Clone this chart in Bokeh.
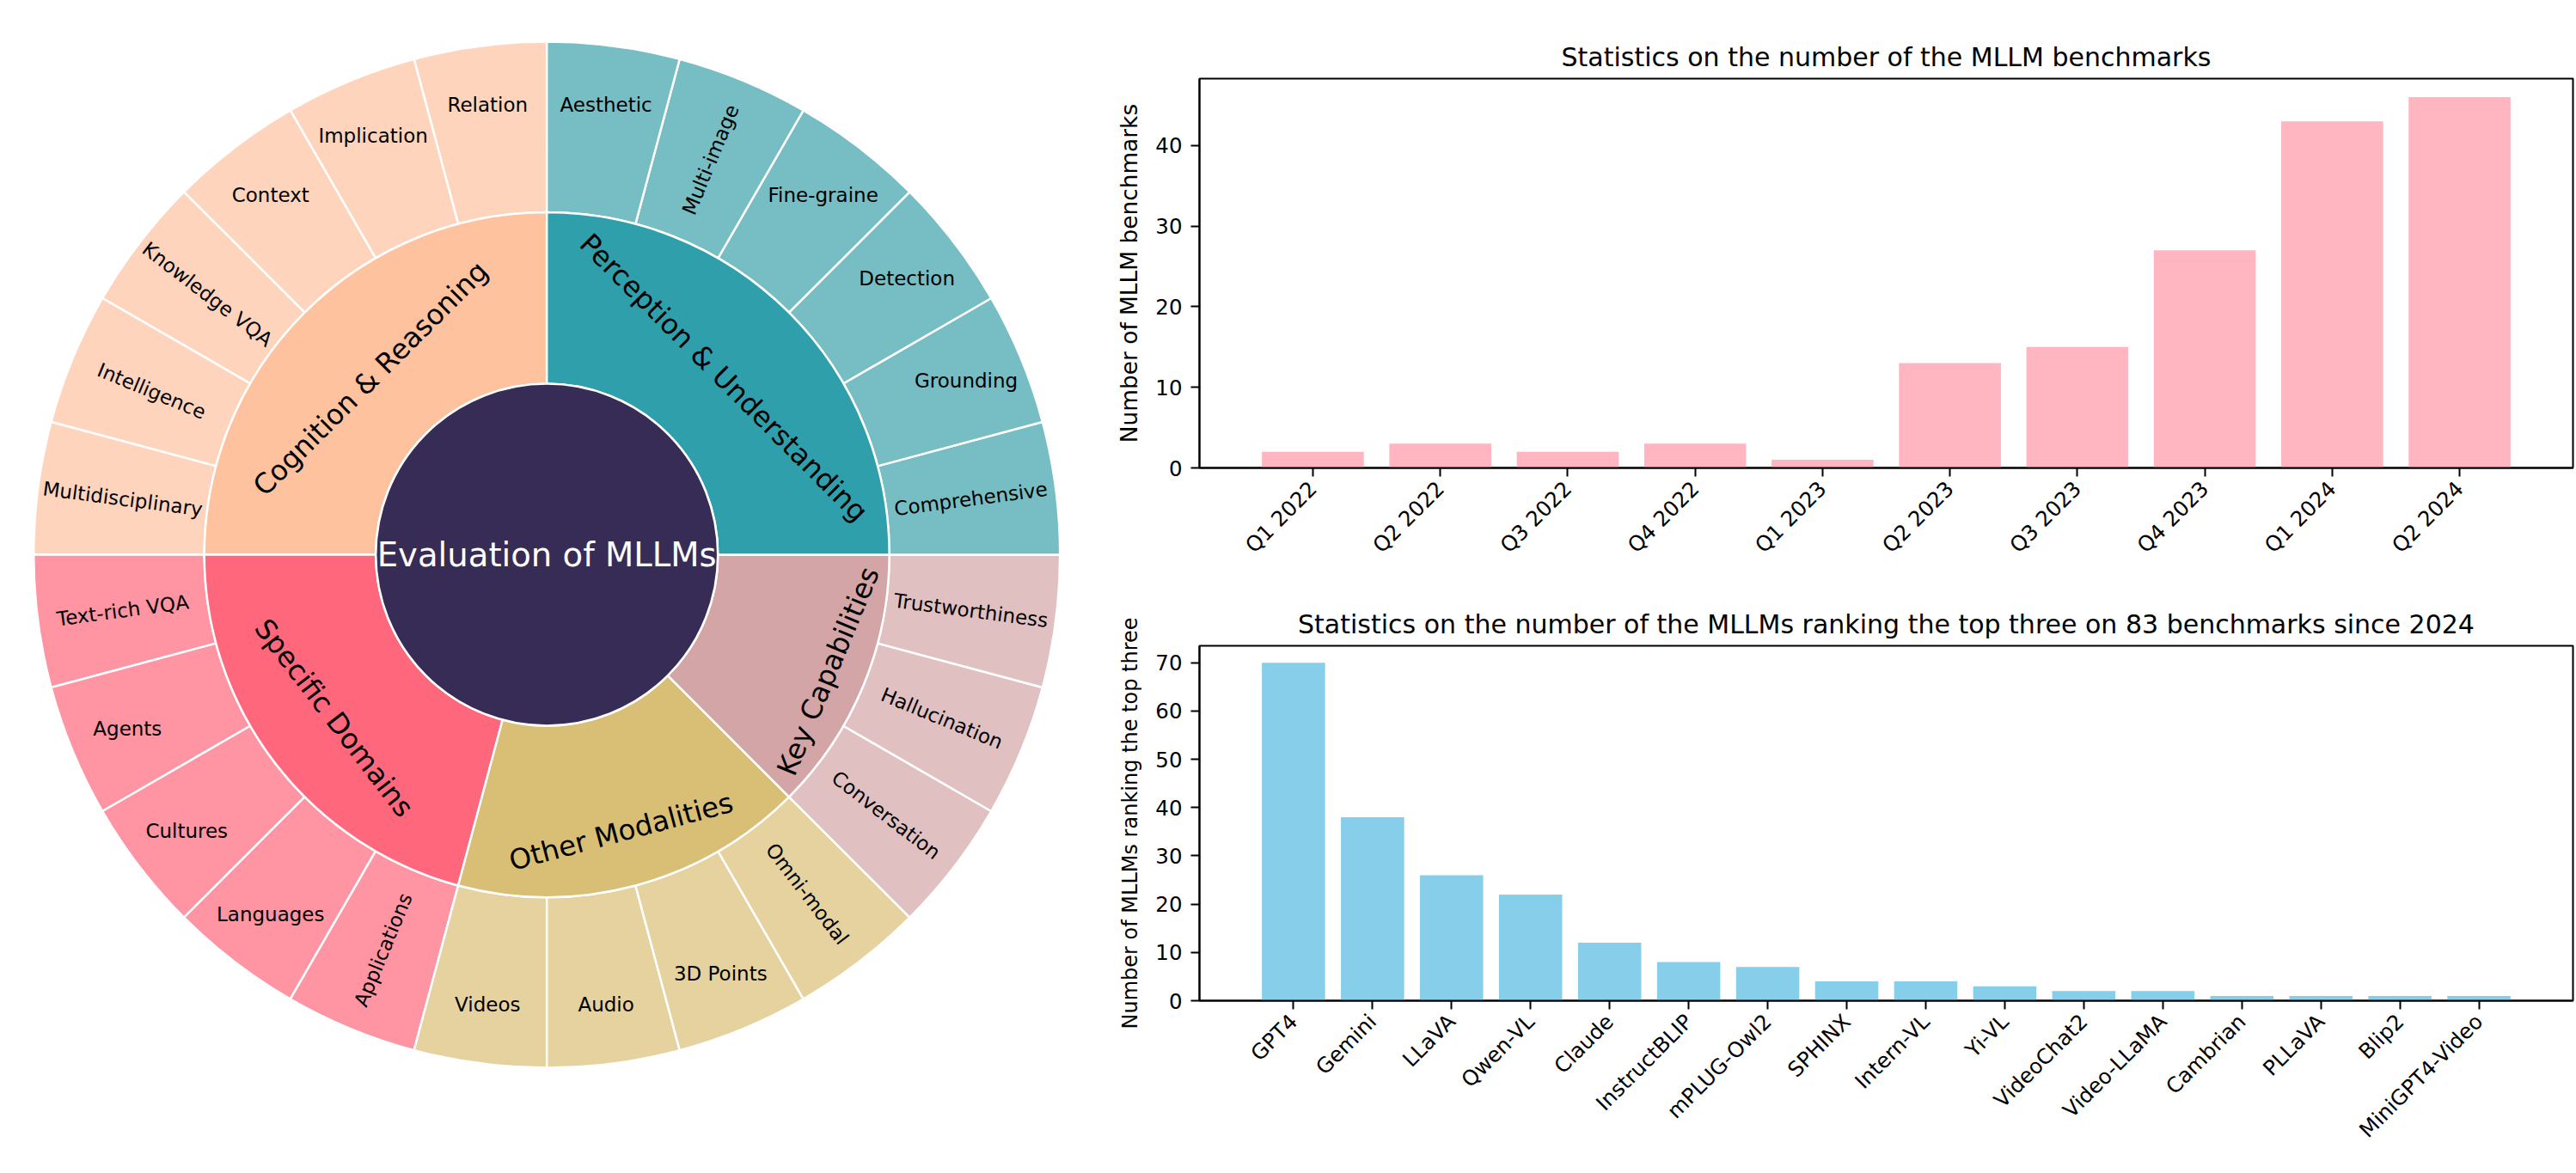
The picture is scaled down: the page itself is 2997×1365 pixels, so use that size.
import math
from bokeh.plotting import figure
from bokeh.layouts import row, column
from bokeh.models import Range1d, FixedTicker, ColumnDataSource
from bokeh.embed import file_html
from bokeh.resources import INLINE
from bokeh.core.properties import value

# ---------------- data ----------------
root_label = "Evaluation of MLLMs"
categories = ["Cognition & Reasoning", "Specific Domains", "Other Modalities",
              "Key Capabilities", "Perception & Understanding"]
cognition_leaves = ["Relation", "Implication", "Context", "Knowledge VQA",
                    "Intelligence", "Multidisciplinary"]
domains_leaves = ["Text-rich VQA", "Agents", "Cultures", "Languages", "Applications"]
modalities_leaves = ["Videos", "Audio", "3D Points", "Omni-modal"]
capabilities_leaves = ["Conversation", "Hallucination", "Trustworthiness"]
perception_leaves = ["Comprehensive", "Grounding", "Detection", "Fine-graine",
                     "Multi-image", "Aesthetic"]
leaf_value = 1

quarters = ["Q1 2022", "Q2 2022", "Q3 2022", "Q4 2022", "Q1 2023",
            "Q2 2023", "Q3 2023", "Q4 2023", "Q1 2024", "Q2 2024"]
benchmark_counts = [2, 3, 2, 3, 1, 13, 15, 27, 43, 46]

mllm_names = ["GPT4", "Gemini", "LLaVA", "Qwen-VL", "Claude", "InstructBLIP",
              "mPLUG-Owl2", "SPHINX", "Intern-VL", "Yi-VL", "VideoChat2",
              "Video-LLaMA", "Cambrian", "PLLaVA", "Blip2", "MiniGPT4-Video"]
top3_counts = [70, 38, 26, 22, 12, 8, 7, 4, 4, 3, 2, 2, 1, 1, 1, 1]

# ---------------- styles ----------------
root_color = "#372C55"
cat_colors = ["#FEC29F", "#FF677C", "#D9BF76", "#D4A5A6", "#2FA0AB"]
leaf_colors = ["#FFD4BD", "#FF94A2", "#E5D29F", "#E1C0C1", "#76BDC4"]
# orientation chosen for each leaf label ("h" horizontal, "r" radial)
leaf_orient = [["h", "h", "h", "r", "r", "r"],
               ["r", "h", "h", "h", "r"],
               ["h", "h", "h", "r"],
               ["r", "r", "r"],
               ["r", "h", "h", "h", "r", "h"]]
FONT = "DejaVu Sans"

# ---------------- sunburst ----------------
SB_W, SB_H = 1258, 1353
CX, CY = 635.7, SB_H - 645.0
R0, R1, R2 = 199.0, 398.5, 597.0
TEXTPAD = 3.0
FS_ROOT, FS_MID, FS_LEAF = 38.6, 32.5, 23.0


def text_w_em(t):
    w = 0.0
    for ch in t:
        if ch in "il.,-:;|!'":
            w += 0.3
        elif ch in "frtIJ ":
            w += 0.37
        elif ch in "mwMW&":
            w += 0.88
        elif ch.isupper():
            w += 0.69
        else:
            w += 0.61
    return w


def max_half_size(a, half, r, ring):
    q = a + 1.0 / (2.0 * math.tan(half))
    return r * min(1.0 / (math.sqrt(q * q + 0.5) + q),
                   ring / (math.sqrt(a * a + ring / 2.0) + a))


def tang_rot(theta):
    d = math.degrees(theta) % 360.0
    rot = d - 90.0 if d <= 180.0 else d - 270.0
    return math.radians(rot)


def rad_rot(theta):
    d = math.degrees(theta) % 360.0
    if 90.0 < d < 270.0:
        d -= 180.0
    elif d >= 270.0:
        d -= 360.0
    return math.radians(d)


leaves_by_cat = [cognition_leaves, domains_leaves, modalities_leaves,
                 capabilities_leaves, perception_leaves]
total = sum(len(l) * leaf_value for l in leaves_by_cat)

mid = dict(s=[], e=[], c=[])
leaf = dict(s=[], e=[], c=[])
mid_txt = dict(x=[], y=[], t=[], a=[])
leaf_txt = dict(x=[], y=[], t=[], a=[])

ang = math.pi / 2.0
for ci, (cat, leaves) in enumerate(zip(categories, leaves_by_cat)):
    span = 2 * math.pi * len(leaves) * leaf_value / total
    mid["s"].append(ang); mid["e"].append(ang + span); mid["c"].append(cat_colors[ci])
    # tangential label placement (plotly-like)
    half = span / 2.0
    th = ang + half
    W = text_w_em(cat) * FS_MID
    H = 1.2 * FS_MID
    rr = R1 - 2 * TEXTPAD
    ring = 1.0 - R0 / R1
    a = H / W
    s = max_half_size(a, half, rr, ring)
    b = s / rr
    rc = (math.cos(b) - a * b) * R1
    mid_txt["x"].append(CX + rc * math.cos(th))
    mid_txt["y"].append(CY + rc * math.sin(th))
    mid_txt["t"].append(cat)
    mid_txt["a"].append(tang_rot(th))
    lspan = span / len(leaves)
    for li, lab in enumerate(leaves):
        s0 = ang + li * lspan
        leaf["s"].append(s0); leaf["e"].append(s0 + lspan); leaf["c"].append(leaf_colors[ci])
        lth = s0 + lspan / 2.0
        lhalf = lspan / 2.0
        lring = 1.0 - R1 / R2
        if leaf_orient[ci][li] == "h":
            rins = max(0.0, min(1.0 / (1.0 + 1.0 / math.sin(lhalf)), lring / 2.0))
            rc = (1.0 - rins) * R2
            rot = 0.0
        else:
            Wl = text_w_em(lab) * FS_LEAF
            Hl = 1.2 * FS_LEAF
            al = Wl / Hl
            rr2 = R2 - 2 * TEXTPAD
            sl = max_half_size(al, lhalf, rr2, lring)
            bl = sl / rr2
            rc = (math.cos(bl) - al * bl) * R2
            rot = rad_rot(lth)
        leaf_txt["x"].append(CX + rc * math.cos(lth))
        leaf_txt["y"].append(CY + rc * math.sin(lth))
        leaf_txt["t"].append(lab)
        leaf_txt["a"].append(rot)
    ang += span

sb = figure(width=SB_W, height=SB_H, x_range=Range1d(0, SB_W), y_range=Range1d(0, SB_H),
            min_border=0, x_axis_location=None, y_axis_location=None,
            output_backend="svg", toolbar_location=None)
sb.grid.visible = False
sb.outline_line_color = None
sb.background_fill_color = "white"
sb.border_fill_color = "white"

sb.annular_wedge(x=CX, y=CY, inner_radius=R1, outer_radius=R2, start_angle="s", end_angle="e",
                 fill_color="c", line_color="white", line_width=2.5,
                 source=ColumnDataSource(leaf))
sb.annular_wedge(x=CX, y=CY, inner_radius=R0, outer_radius=R1, start_angle="s", end_angle="e",
                 fill_color="c", line_color="white", line_width=2.5,
                 source=ColumnDataSource(mid))
sb.circle(x=[CX], y=[CY], radius=R0, fill_color=root_color, line_color="white", line_width=2.5)

sb.text(x="x", y="y", text="t", angle="a", source=ColumnDataSource(leaf_txt),
        text_align="center", text_baseline="middle", text_font=value(FONT),
        text_font_size=value(f"{FS_LEAF}px"), text_color="black")
sb.text(x="x", y="y", text="t", angle="a", source=ColumnDataSource(mid_txt),
        text_align="center", text_baseline="middle", text_font=value(FONT),
        text_font_size=value(f"{FS_MID}px"), text_color="black")
sb.text(x=[CX], y=[CY], text=[root_label], text_align="center", text_baseline="middle",
        text_font=value(FONT), text_font_size=value(f"{FS_ROOT}px"), text_color="white")


# ---------------- bar charts ----------------
def bar_chart(cats, vals, color, title, ylabel, ylabel_size, border_top, frame_h, border_bottom):
    n = len(cats)
    xs = list(range(n))
    pad = 0.05 * (n - 0.2)
    ymax = max(vals) * 1.05
    p = figure(frame_width=1598, frame_height=frame_h,
               min_border_left=137, min_border_right=2,
               min_border_top=border_top, min_border_bottom=border_bottom,
               x_range=Range1d(-0.4 - pad, n - 0.6 + pad), y_range=Range1d(0, ymax),
               output_backend="svg", toolbar_location=None)
    p.vbar(x=xs, top=vals, width=0.8, fill_color=color, line_color=None)
    p.title.text = title
    p.title.align = "center"
    p.title.text_font = FONT
    p.title.text_font_size = "30px"
    p.title.text_font_style = "normal"
    p.title.text_color = "black"
    p.title.standoff = 16
    p.grid.visible = False
    p.outline_line_color = "black"
    p.outline_line_width = 2
    p.outline_line_alpha = 1.0
    p.xaxis.ticker = FixedTicker(ticks=xs)
    p.xaxis.major_label_overrides = {i: c for i, c in enumerate(cats)}
    p.xaxis.major_label_orientation = math.pi / 4
    p.yaxis.ticker = FixedTicker(ticks=list(range(0, int(ymax) + 1, 10)))
    p.yaxis.axis_label = ylabel
    p.yaxis.axis_label_text_font = FONT
    p.yaxis.axis_label_text_font_size = ylabel_size
    p.yaxis.axis_label_text_font_style = "normal"
    p.yaxis.axis_label_text_color = "black"
    p.yaxis.axis_label_standoff = 12
    for ax in (p.xaxis, p.yaxis):
        ax.minor_tick_line_color = None
        ax.major_tick_out = 10
        ax.major_tick_in = 0
        ax.major_tick_line_width = 2
        ax.major_tick_line_color = "black"
        ax.axis_line_width = 2
        ax.axis_line_color = "black"
        ax.major_label_text_font = FONT
        ax.major_label_text_font_size = "24.5px"
        ax.major_label_text_color = "black"
        ax.major_label_standoff = 10
    return p


top = bar_chart(quarters, benchmark_counts, "#FFB6C1",
                "Statistics on the number of the MLLM benchmarks",
                "Number of MLLM benchmarks", "26.4px", 91, 453, 130)
bottom = bar_chart(mllm_names, top3_counts, "#87CEEB",
                   "Statistics on the number of the MLLMs ranking the top three on 83 benchmarks since 2024",
                   "Number of MLLMs ranking the top three", "24px", 77, 413, 189)

layout = row(sb, column(top, bottom))
open("out.html", "w").write(file_html(layout, INLINE))
